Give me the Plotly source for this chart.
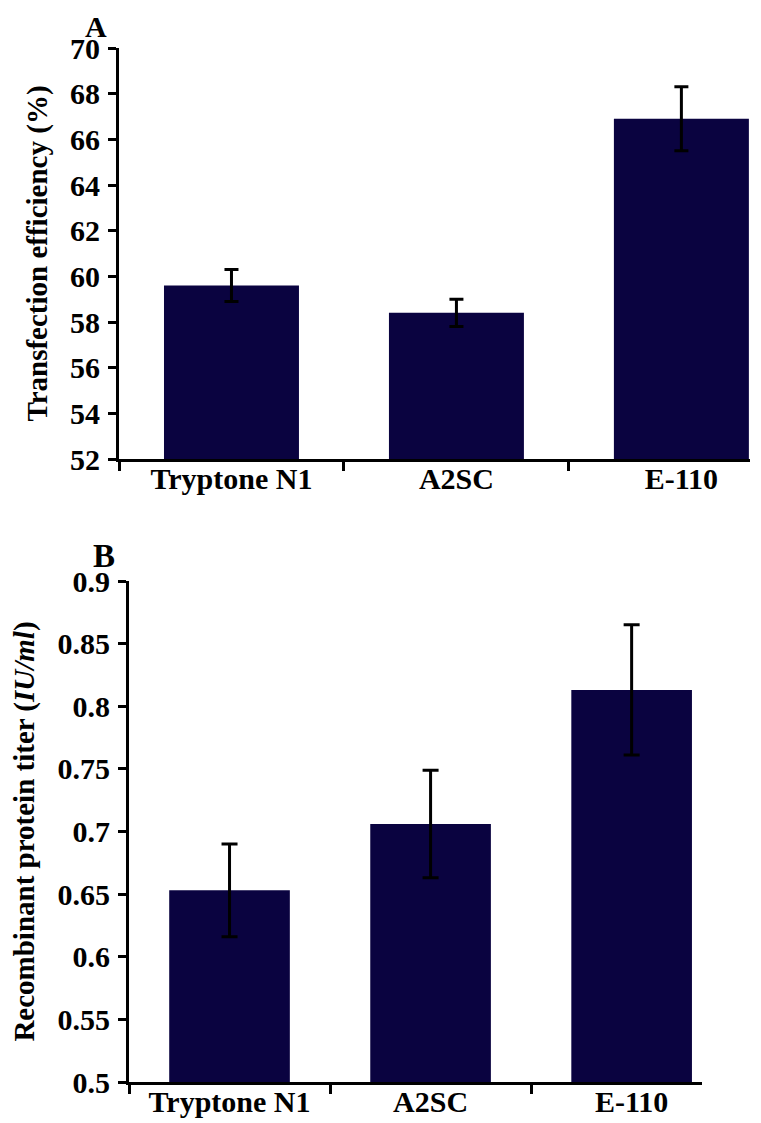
import plotly.graph_objects as go

# categories shared by both panels
media = ["Tryptone N1", "A2SC", "E-110"]

# panel A: transfection efficiency (%)
eff_mean = [59.6, 58.4, 66.9]
eff_err = [0.7, 0.6, 1.4]
eff_ticks = [52, 54, 56, 58, 60, 62, 64, 66, 68, 70]

# panel B: recombinant protein titer (IU/ml)
titer_mean = [0.653, 0.706, 0.813]
titer_err = [0.037, 0.043, 0.052]
titer_ticks = [0.5, 0.55, 0.6, 0.65, 0.7, 0.75, 0.8, 0.85, 0.9]
titer_ticktext = ["0.5", "0.55", "0.6", "0.65", "0.7", "0.75", "0.8", "0.85", "0.9"]

BAR = "#0a0340"
FONT = "Liberation Serif"
# the page body adds an 8px margin, so the figure is a bit smaller than the window
OFF = 8
W, H = 761 - OFF, 1123 - OFF


def px(x):
    return (x - OFF) / W


def py(y):
    return 1 - (y - OFF) / H


fig = go.Figure()

fig.add_trace(go.Bar(
    x=media, y=eff_mean, width=0.6, marker_color=BAR, marker_line_width=0,
    error_y=dict(type="data", array=eff_err, color="black", thickness=3, width=7),
    xaxis="x", yaxis="y", showlegend=False))

fig.add_trace(go.Bar(
    x=media, y=titer_mean, width=0.6, marker_color=BAR, marker_line_width=0,
    error_y=dict(type="data", array=titer_err, color="black", thickness=3, width=8),
    xaxis="x2", yaxis="y2", showlegend=False))

tick_font = dict(family=FONT, size=30, color="black", weight="bold")
title_font = dict(family=FONT, size=29, color="black", weight="bold")

xcommon = dict(type="category", showline=True, linecolor="black", linewidth=3,
               ticks="outside", tickson="boundaries", ticklen=9, tickwidth=3,
               tickcolor="black", tickfont=tick_font, showgrid=False, zeroline=False,
               automargin=False, ticklabelstandoff=-9)
ycommon = dict(showline=True, linecolor="black", linewidth=3, ticks="outside",
               ticklen=8, tickwidth=3, tickcolor="black", tickfont=tick_font,
               showgrid=False, zeroline=False, ticklabelstandoff=2, automargin=False)

fig.update_layout(
    width=W, height=H,
    margin=dict(l=0, r=0, t=0, b=0),
    paper_bgcolor="white", plot_bgcolor="white",
    xaxis=dict(xcommon, domain=[px(119), px(750)], range=[-0.5, 2.305], anchor="y"),
    yaxis=dict(ycommon, domain=[py(459), py(48)], range=[52, 70],
               tickvals=eff_ticks, anchor="x",
               title=dict(text="Transfection efficiency (%)", font=title_font, standoff=14)),
    xaxis2=dict(xcommon, domain=[px(129), px(702)], range=[-0.5, 2.35], anchor="y2"),
    yaxis2=dict(ycommon, domain=[py(1082), py(581)], range=[0.5, 0.9],
                tickvals=titer_ticks, ticktext=titer_ticktext, anchor="x2",
                title=dict(text="Recombinant protein titer (<i>IU/ml</i>)",
                           font=title_font, standoff=15)),
    annotations=[
        dict(text="A", x=px(83), y=py(8), xref="paper", yref="paper",
             xanchor="left", yanchor="top", showarrow=False,
             font=dict(family=FONT, size=30, color="black", weight="bold")),
        dict(text="B", x=px(91), y=py(536), xref="paper", yref="paper",
             xanchor="left", yanchor="top", showarrow=False,
             font=dict(family=FONT, size=33, color="black", weight="bold")),
    ],
)

fig.write_html("out.html")
